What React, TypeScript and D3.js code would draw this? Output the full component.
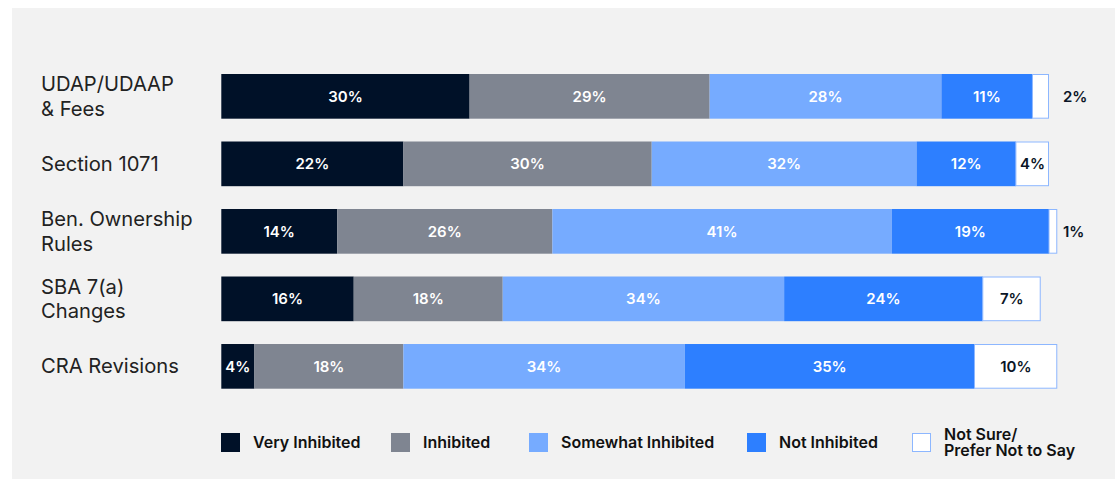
import React from "react";
import * as d3 from "d3";

const categories: string[][] = [
  ["UDAP/UDAAP", "& Fees"],
  ["Section 1071"],
  ["Ben. Ownership", "Rules"],
  ["SBA 7(a)", "Changes"],
  ["CRA Revisions"],
];
const seriesNames: string[][] = [
  ["Very Inhibited"],
  ["Inhibited"],
  ["Somewhat Inhibited"],
  ["Not Inhibited"],
  ["Not Sure/", "Prefer Not to Say"],
];
const veryInhibited = [30, 22, 14, 16, 4];
const inhibited = [29, 30, 26, 18, 18];
const somewhatInhibited = [28, 32, 41, 34, 34];
const notInhibited = [11, 12, 19, 24, 35];
const notSure = [2, 4, 1, 7, 10];

const series = [veryInhibited, inhibited, somewhatInhibited, notInhibited, notSure];
const colors = ["#001128", "#7f8591", "#76abff", "#2d7fff", "#ffffff"];
const labelColors = ["#ffffff", "#ffffff", "#ffffff", "#ffffff", "#0b1526"];

const W = 1115;
const H = 479;
const FONT = "Inter, 'Noto Sans', sans-serif";

export default function App() {
  const keys = categories.map((c) => c.join(" "));
  const y = d3.scaleBand<string>().domain(keys).range([74, 388.7]).paddingInner(0.338).paddingOuter(0);
  const x = d3.scaleLinear().domain([0, 100]).range([221.3, 1049]);

  const rows = keys.map((k, i) => {
    let acc = 0;
    return series.map((s, j) => {
      const x0 = acc;
      acc += s[i];
      return { key: k, i, j, x0, x1: acc, v: s[i] };
    });
  });

  const legendX = [221, 391, 529, 747, 912];

  return (
    <svg
      width={W}
      height={H}
      style={{ position: "absolute", left: 0, top: 0, display: "block" }}
      fontFamily={FONT}
    >
      <rect x={0} y={0} width={W} height={H} fill="#ffffff" />
      <rect x={12} y={8} width={W - 12} height={H - 8} fill="#f2f2f2" />

      {keys.map((k, i) => {
        const lines = categories[i];
        const cy = (y(k) as number) + y.bandwidth() / 2;
        const lh = 24.5;
        const first = cy + 7 - ((lines.length - 1) * lh) / 2;
        return (
          <text key={k} x={41} fontSize={20.2} fill="#222" fontWeight={400}>
            {lines.map((l, li) => (
              <tspan key={li} x={41} y={first + li * lh}>
                {l}
              </tspan>
            ))}
          </text>
        );
      })}

      {rows.map((segs) =>
        segs.map((s) => {
          const yy = y(s.key) as number;
          const bh = y.bandwidth();
          const xs = x(s.x0);
          const xe = x(s.x1);
          const isLast = s.j === 4;
          return (
            <g key={s.key + s.j}>
              {isLast ? (
                <rect
                  x={xs}
                  y={yy + 0.5}
                  width={xe - xs - 0.5}
                  height={bh - 1}
                  fill={colors[s.j]}
                  stroke="#8db7ff"
                  strokeWidth={1}
                />
              ) : (
                <rect x={xs} y={yy} width={xe - xs} height={bh} fill={colors[s.j]} />
              )}
            </g>
          );
        })
      )}

      {rows.map((segs) =>
        segs.map((s) => {
          const yy = y(s.key) as number;
          const cy = yy + y.bandwidth() / 2;
          const xs = x(s.x0);
          const xe = x(s.x1);
          const outside = s.v < 3;
          return (
            <text
              key={"l" + s.key + s.j}
              x={outside ? 1063 : (xs + xe) / 2}
              y={cy}
              dy="0.36em"
              textAnchor={outside ? "start" : "middle"}
              fontSize={15}
              fontWeight={600}
              fill={outside ? "#0b1526" : labelColors[s.j]}
            >
              {`${s.v}%`}
            </text>
          );
        })
      )}

      {seriesNames.map((names, j) => {
        const lx = legendX[j];
        const cy = 442.5;
        return (
          <g key={"lg" + j}>
            <rect
              x={lx + (j === 4 ? 0.5 : 0)}
              y={433 + (j === 4 ? 0.5 : 0)}
              width={j === 4 ? 18 : 19}
              height={j === 4 ? 18 : 19}
              fill={colors[j]}
              stroke={j === 4 ? "#8db7ff" : "none"}
              strokeWidth={1}
            />
            <text fontSize={16} fontWeight={600} fill="#111">
              {names.map((n, ni) => (
                <tspan key={ni} x={lx + 32} y={cy - ((names.length - 1) * 16) / 2 + ni * 16} dy="0.36em">
                  {n}
                </tspan>
              ))}
            </text>
          </g>
        );
      })}
    </svg>
  );
}
